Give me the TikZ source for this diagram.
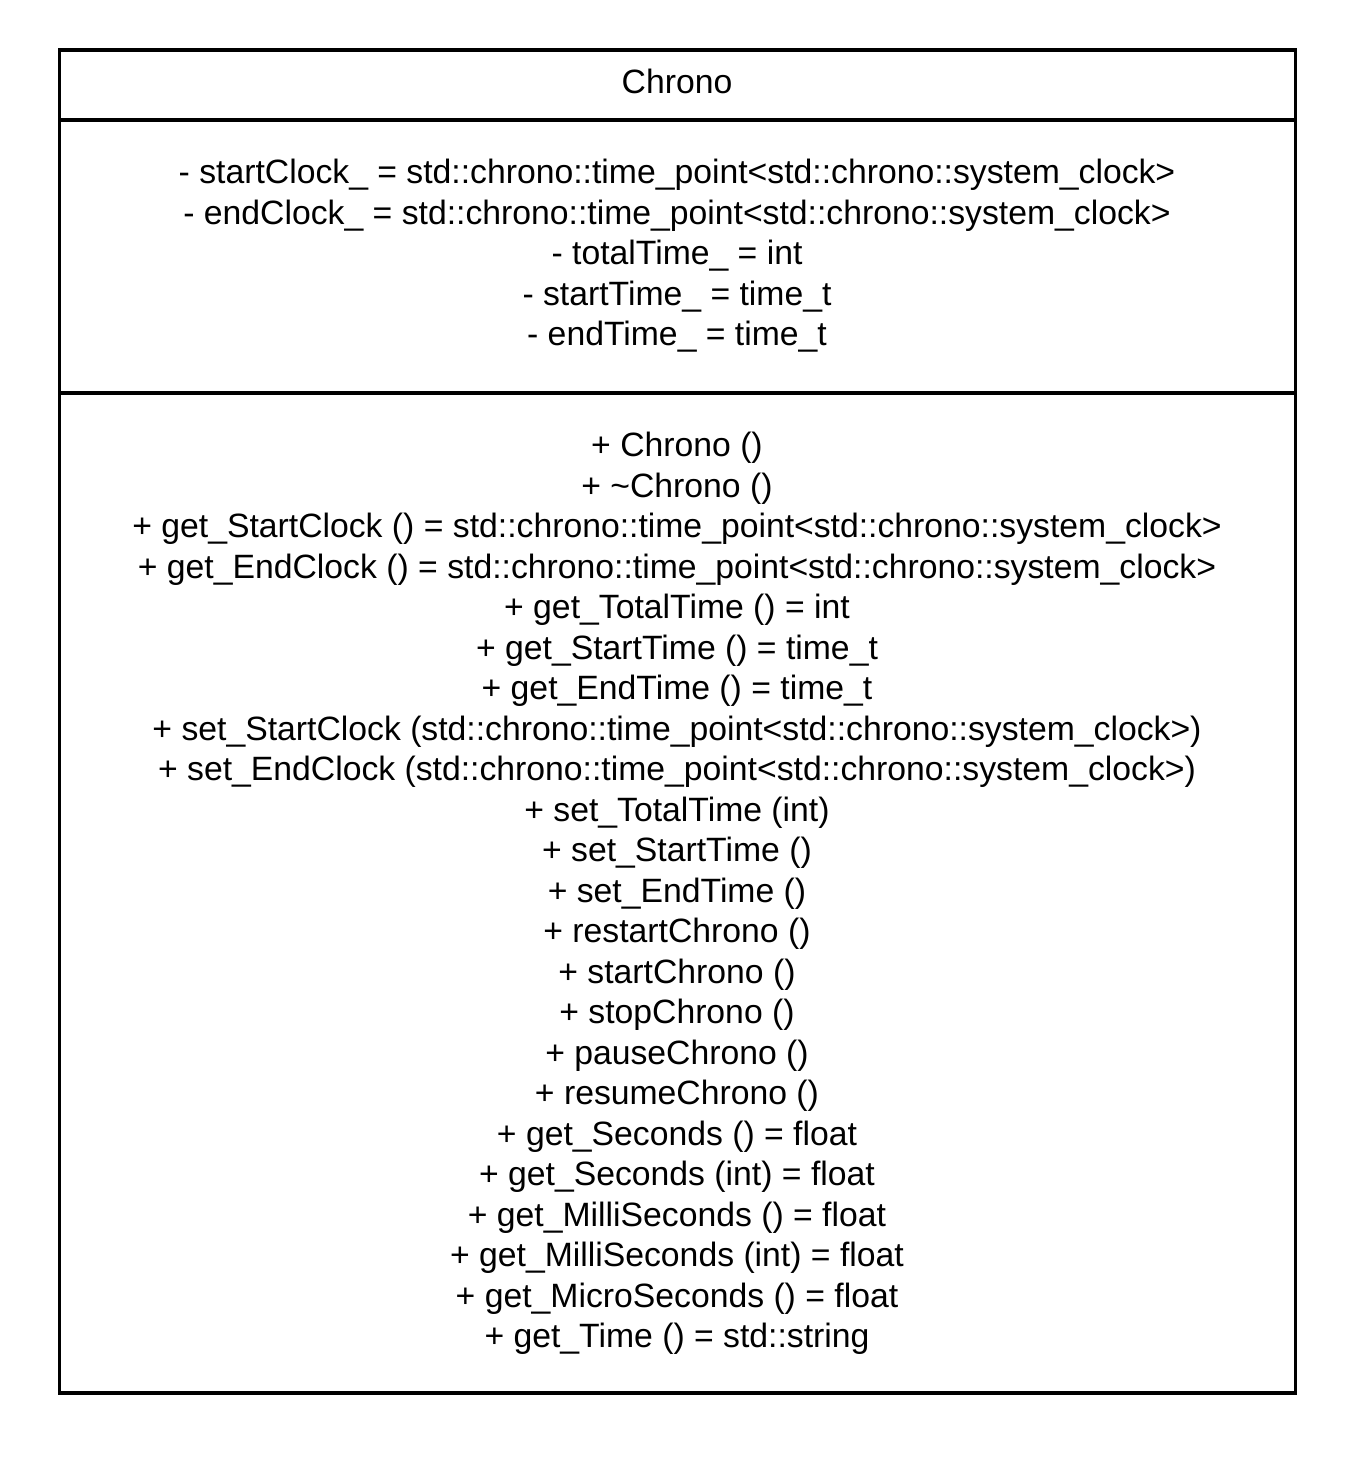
\documentclass[tikz,border=0pt]{standalone}
\usepackage{fontspec}
\setmainfont{Liberation Sans}
\begin{document}
\begin{tikzpicture}[x=0.02cm,y=-0.02cm,
    umlline/.style={line width=0.07cm},
    umltext/.style={align=center,inner sep=0pt,font=\fontsize{19.2}{23.05}\selectfont}]
      \useasboundingbox (0,0) rectangle (1371,1468);
      \draw
        (59.5,50) coordinate (nw)
        (1295.5,50) coordinate (ne)
        (59.5,1393) coordinate (sw)
        (1295.5,1393) coordinate (se)
        (59.5,120) coordinate (a1)
        (1295.5,120) coordinate (a2)
        (59.5,393) coordinate (m1)
        (1295.5,393) coordinate (m2);
      \node[umltext] (name) at (677,81) {Chrono};
      \node[umltext] (attrs) at (677,256) {%
        - startClock\_ = std::chrono::time\_point<std::chrono::system\_clock>\\
        - endClock\_ = std::chrono::time\_point<std::chrono::system\_clock>\\
        - totalTime\_ = int\\
        - startTime\_ = time\_t\\
        - endTime\_ = time\_t};
      \node[umltext] (ops) at (677,893.5) {%
        + Chrono ()\\
        + \textasciitilde Chrono ()\\
        + get\_StartClock () = std::chrono::time\_point<std::chrono::system\_clock>\\
        + get\_EndClock () = std::chrono::time\_point<std::chrono::system\_clock>\\
        + get\_TotalTime () = int\\
        + get\_StartTime () = time\_t\\
        + get\_EndTime () = time\_t\\
        + set\_StartClock (std::chrono::time\_point<std::chrono::system\_clock>)\\
        + set\_EndClock (std::chrono::time\_point<std::chrono::system\_clock>)\\
        + set\_TotalTime (int)\\
        + set\_StartTime ()\\
        + set\_EndTime ()\\
        + restartChrono ()\\
        + startChrono ()\\
        + stopChrono ()\\
        + pauseChrono ()\\
        + resumeChrono ()\\
        + get\_Seconds () = float\\
        + get\_Seconds (int) = float\\
        + get\_MilliSeconds () = float\\
        + get\_MilliSeconds (int) = float\\
        + get\_MicroSeconds () = float\\
        + get\_Time () = std::string};
      \begin{scope}[umlline]
        \draw (nw) -- (ne) -- (se) -- (sw) -- cycle;
        \draw (a1) to (a2);
        \draw (m1) to (m2);
      \end{scope}
    \end{tikzpicture}
\end{document}
